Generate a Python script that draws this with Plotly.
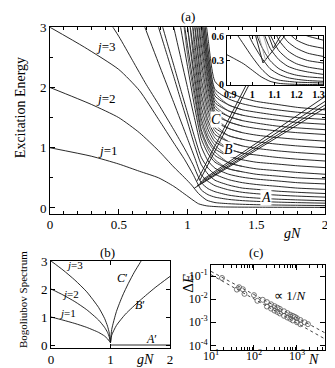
import plotly.graph_objects as go

# ---- panel (a): excitation spectrum vs gN ----
j1_x = [0, 0.3, 0.5, 0.65, 0.79, 0.9, 0.98, 1.04, 1.08, 1.14, 1.25, 1.6, 2.0]
j1_y = [1.0, 0.86, 0.73, 0.61, 0.5, 0.36, 0.23, 0.13, 0.07, 0.035, 0.018, 0.012, 0.01]
j2_x = [0, 0.3, 0.5, 0.65, 0.79, 0.9, 0.98, 1.03, 1.08, 1.14, 1.2, 1.3, 1.4, 1.5, 1.65, 1.8, 2.0]
j2_y = [2.0, 1.72, 1.5, 1.25, 0.95, 0.68, 0.5, 0.38, 0.24, 0.13, 0.09, 0.071, 0.061, 0.055, 0.049, 0.045, 0.04]
j3_x = [0, 0.25, 0.5, 0.65, 0.79, 0.9, 0.98, 1.04, 1.1, 1.15, 1.2, 1.3, 1.4, 1.5, 1.65, 1.8, 2.0]
j3_y = [3.0, 2.67, 2.3, 1.95, 1.47, 1.08, 0.8, 0.56, 0.3, 0.22, 0.18, 0.142, 0.122, 0.11, 0.098, 0.089, 0.08]
j4_x = [0.4, 0.5, 0.6, 0.7, 0.79, 0.9, 0.98, 1.04, 1.1, 1.15, 1.2, 1.3, 1.4, 1.5, 1.65, 1.8, 2.0]
j4_y = [3.2, 2.85, 2.45, 2.05, 1.72, 1.3, 0.98, 0.72, 0.42, 0.32, 0.27, 0.213, 0.183, 0.165, 0.147, 0.134, 0.12]
j5_x = [0.65, 0.69, 0.8, 0.9, 1.0, 1.05, 1.1, 1.15, 1.2, 1.3, 1.4, 1.5, 1.65, 1.8, 2.0]
j5_y = [3.25, 3.0, 2.34, 1.75, 1.15, 0.85, 0.55, 0.44, 0.37, 0.3, 0.26, 0.237, 0.214, 0.197, 0.18]

# higher levels, sampled on a common gN grid (None = off the top)
fan_x = [0.75, 0.8, 0.85, 0.9, 0.95, 1.0, 1.05, 1.1, 1.15, 1.2, 1.3, 1.4, 1.5, 1.65, 1.8, 2.0]
fan_y = [
    [3.3, 2.92, 2.55, 2.18, 1.8, 1.43, 1.05, 0.72, 0.56, 0.46, 0.38, 0.33, 0.31, 0.28, 0.26, 0.24],
    [None, 3.16, 2.76, 2.37, 1.97, 1.58, 1.19, 0.84, 0.66, 0.56, 0.47, 0.42, 0.39, 0.36, 0.33, 0.31],
    [None, None, 3.5, 3.0, 2.5, 2.0, 1.5, 1.02, 0.78, 0.66, 0.56, 0.51, 0.48, 0.45, 0.42, 0.40],
    [None, None, None, 3.65, 3.0, 2.35, 1.7, 1.15, 0.9, 0.76, 0.65, 0.6, 0.56, 0.53, 0.5, 0.48],
    [None, None, None, None, 3.45, 2.7, 1.95, 1.3, 1.02, 0.87, 0.75, 0.69, 0.65, 0.62, 0.59, 0.56],
    [None, None, None, None, 3.8, 3.0, 2.2, 1.48, 1.15, 0.98, 0.86, 0.80, 0.76, 0.73, 0.70, 0.67],
    [None, None, None, None, None, 3.35, 2.5, 1.68, 1.3, 1.1, 0.98, 0.91, 0.88, 0.84, 0.81, 0.78],
    [None, None, None, None, None, 3.75, 2.8, 1.9, 1.45, 1.22, 1.1, 1.03, 0.99, 0.95, 0.92, 0.89],
    [None, None, None, None, None, None, 3.1, 2.15, 1.62, 1.33, 1.2, 1.14, 1.1, 1.06, 1.03, 1.0],
    [None, None, None, None, None, None, 3.4, 2.43, 1.8, 1.44, 1.32, 1.25, 1.21, 1.17, 1.14, 1.11],
    [None, None, None, None, None, None, 3.7, 2.72, 1.98, 1.55, 1.43, 1.36, 1.32, 1.28, 1.25, 1.22],
    [None, None, None, None, None, None, 3.95, 3.0, 2.15, 1.65, 1.52, 1.45, 1.41, 1.36, 1.33, 1.30],
    [None, None, None, None, None, None, None, 3.19, 2.3, 1.75, 1.61, 1.54, 1.5, 1.46, 1.42, 1.39],
    [None, None, None, None, None, None, None, 3.38, 2.45, 1.86, 1.71, 1.63, 1.59, 1.54, 1.5, 1.47],
    [None, None, None, None, None, None, None, 3.57, 2.62, 1.97, 1.81, 1.73, 1.68, 1.63, 1.59, 1.55],
    [None, None, None, None, None, None, None, 3.76, 2.8, 2.1, 1.92, 1.83, 1.77, 1.72, 1.67, 1.63],
]

# extra steep levels in the dense bundle, each merging into a level of the fan
bundle_x = [
    [0.965, 1.0, 1.05, 1.1, 1.15, 1.2, 1.3, 1.4],
    [0.99, 1.0, 1.05, 1.1, 1.15, 1.2, 1.3, 1.4],
    [1.01, 1.05, 1.1, 1.15, 1.2, 1.3, 1.4],
    [1.03, 1.05, 1.1, 1.15, 1.2, 1.3, 1.4],
    [1.048, 1.1, 1.15, 1.2, 1.3, 1.4],
    [1.062, 1.1, 1.15, 1.2, 1.3, 1.4],
    [1.077, 1.1, 1.15, 1.2, 1.3, 1.4],
    [1.093, 1.1, 1.15, 1.2, 1.3, 1.4],
    [1.105, 1.15, 1.2, 1.3, 1.4],
    [1.115, 1.15, 1.2, 1.3, 1.4],
    [1.125, 1.15, 1.2, 1.3, 1.4],
]
bundle_y = [
    [3.2, 2.55, 1.85, 1.25, 0.97, 0.8, 0.65, 0.6],
    [3.2, 3.0, 2.1, 1.4, 1.1, 0.93, 0.75, 0.69],
    [3.2, 2.35, 1.58, 1.22, 1.04, 0.86, 0.80],
    [3.3, 2.65, 1.8, 1.38, 1.16, 0.98, 0.91],
    [3.1, 2.03, 1.54, 1.28, 1.1, 1.03],
    [3.1, 2.3, 1.71, 1.39, 1.2, 1.14],
    [3.1, 2.58, 1.9, 1.5, 1.32, 1.25],
    [3.1, 2.87, 2.07, 1.6, 1.43, 1.36],
    [3.1, 2.22, 1.7, 1.52, 1.45],
    [3.1, 2.38, 1.8, 1.61, 1.54],
    [3.1, 2.55, 1.92, 1.71, 1.63],
]

# rising branches B and C (straight segments: start, end)
b_x = [[1.05, 2.0], [1.07, 2.0], [1.09, 2.0], [1.11, 2.0]]
b_y = [[0.33, 1.66], [0.37, 1.71], [0.42, 1.77], [0.47, 1.85]]
c_x = [[1.07, 1.44], [1.09, 1.46]]
c_y = [[0.45, 2.1], [0.46, 2.1]]

# inset of (a)
ins_x = [0.885, 0.92, 0.96, 1.0, 1.04, 1.08, 1.12, 1.16, 1.2, 1.25, 1.32]
ins_y = [
    [0.37, 0.32, 0.26, 0.18, 0.1, 0.045, 0.02, 0.012, 0.008, 0.006, 0.005],
    [None, 0.66, 0.5, 0.34, 0.2, 0.1, 0.06, 0.045, 0.035, 0.03, 0.025],
    [None, None, 0.75, 0.52, 0.34, 0.2, 0.13, 0.09, 0.07, 0.055, 0.045],
    [None, None, None, 0.75, 0.48, 0.3, 0.2, 0.15, 0.12, 0.1, 0.086],
    [None, None, None, None, 0.72, 0.45, 0.31, 0.23, 0.19, 0.16, 0.13],
    [None, None, None, None, 0.9, 0.62, 0.42, 0.32, 0.26, 0.22, 0.19],
    [None, None, None, None, None, 0.8, 0.55, 0.42, 0.35, 0.3, 0.27],
    [None, None, None, None, None, 0.98, 0.68, 0.53, 0.45, 0.39, 0.35],
    [None, None, None, None, None, None, 0.82, 0.65, 0.55, 0.49, 0.45],
    [None, None, None, None, None, None, None, 0.78, 0.66, 0.6, 0.55],
]
ins_v_x = [[1.0, 1.048, 1.17], [1.06, 1.095, 1.14]]
ins_v_y = [[0.75, 0.27, 0.68], [0.7, 0.45, 0.66]]
ins_gray_x = [[1.02, 1.06], [1.04, 1.075]]
ins_gray_y = [[0.7, 0.3], [0.7, 0.38]]

# ---- panel (b): Bogoliubov spectrum ----
bog_x = [0, 0.2, 0.4, 0.6, 0.8, 0.9, 0.95, 0.98, 1.0]
bog_j1 = [1.0, 0.89, 0.77, 0.63, 0.45, 0.32, 0.22, 0.14, 0.08]
bog_j2 = [2.0, 1.79, 1.55, 1.26, 0.89, 0.63, 0.45, 0.28, 0.08]
bog_j3 = [3.0, 2.68, 2.32, 1.9, 1.34, 0.95, 0.67, 0.42, 0.08]
cp_x = [1.0, 1.02, 1.1, 1.2, 1.3, 1.4, 1.5, 1.6]
cp_y = [0.08, 0.55, 1.2, 1.75, 2.2, 2.6, 2.95, 3.3]
bp_x = [1.0, 1.02, 1.1, 1.25, 1.5, 1.75, 2.0]
bp_y = [0.08, 0.35, 0.7, 1.1, 1.6, 2.05, 2.45]
ap_x = [1.0, 2.0]
ap_y = [0.0, 0.0]

# ---- panel (c): gap vs N ----
n_up = [18, 45, 55, 100, 160, 200, 250, 300, 350, 400, 500, 600, 700, 800, 900, 1000, 1200, 1500, 1800]
de_up = [0.083, 0.033, 0.027, 0.015, 0.0094, 0.0075, 0.006, 0.005, 0.0043, 0.0038, 0.003,
         0.0025, 0.0021, 0.0019, 0.0017, 0.0015, 0.00125, 0.001, 0.00083]
n_lo = [40, 60, 120, 200, 250, 300, 350, 400, 500, 600, 700, 800, 1000, 1200]
de_lo = [0.026, 0.017, 0.0085, 0.0048, 0.0039, 0.0032, 0.0028, 0.0024, 0.0019, 0.0016,
         0.0014, 0.0012, 0.001, 0.00082]
fit_n = [10, 4467]
fit_up = [0.16, 0.00035]
fit_lo = [0.115, 0.00019]

FONT = "Liberation Serif"
LINE = dict(color="#111111", width=0.9)

fig = go.Figure()


def curve(x, y, ax="", smooth=True, line=LINE):
    fig.add_trace(go.Scatter(
        x=x, y=y, mode="lines", xaxis="x" + ax, yaxis="y" + ax,
        line=dict(shape="spline" if smooth else "linear", smoothing=0.6, **line),
        hoverinfo="skip"))


for x, y in [(j1_x, j1_y), (j2_x, j2_y), (j3_x, j3_y), (j4_x, j4_y), (j5_x, j5_y)]:
    curve(x, y)
for y in fan_y:
    curve(fan_x, y)
for x, y in zip(bundle_x, bundle_y):
    curve(x, y, line=dict(color="#333333", width=0.8))
for x, y in zip(b_x + c_x, b_y + c_y):
    curve(x, y, smooth=False)

# inset: white patch first so the main lines do not show through
fig.add_trace(go.Scatter(x=[0.885, 1.32, 1.32, 0.885, 0.885], y=[0, 0, 0.6, 0.6, 0],
                         mode="lines", fill="toself", fillcolor="white",
                         line=dict(width=0), xaxis="x2", yaxis="y2", hoverinfo="skip"))
for y in ins_y:
    curve(ins_x, y, "2")
for x, y in zip(ins_v_x, ins_v_y):
    curve(x, y, "2", smooth=False)
for x, y in zip(ins_gray_x, ins_gray_y):
    curve(x, y, "2", smooth=False, line=dict(color="#999999", width=0.8))

for y in [bog_j1, bog_j2, bog_j3]:
    curve(bog_x, y, "3")
curve(cp_x, cp_y, "3")
curve(bp_x, bp_y, "3")
curve(ap_x, ap_y, "3", smooth=False)

for y in [fit_up, fit_lo]:
    fig.add_trace(go.Scatter(x=fit_n, y=y, mode="lines", xaxis="x4", yaxis="y4",
                             line=dict(color="#444444", width=1, dash="dot"), hoverinfo="skip"))
for n, d in [(n_up, de_up), (n_lo, de_lo)]:
    fig.add_trace(go.Scatter(x=n, y=d, mode="markers", xaxis="x4", yaxis="y4",
                             marker=dict(symbol="circle-open", size=5, color="#555555",
                                         line=dict(width=0.8)), hoverinfo="skip"))


def axis(**kw):
    base = dict(showline=True, linecolor="black", linewidth=1, mirror="ticks",
                ticks="inside", ticklen=5, tickcolor="black", showgrid=False, zeroline=False,
                automargin=False,
                tickfont=dict(family=FONT, size=13, color="black"))
    base.update(kw)
    return base


minor_log = [m * 10 ** k for k in (1, 2, 3) for m in range(2, 10)]
fig.update_layout(
    template="none",
    width=335, height=368, margin=dict(l=0, r=0, t=0, b=0, autoexpand=False),
    paper_bgcolor="white", plot_bgcolor="white", showlegend=False,
    font=dict(family=FONT, color="black"),
    xaxis=axis(domain=[0.1254, 0.9463], range=[0, 2], anchor="y",
               tickvals=[0, 0.5, 1, 1.5, 2], ticklabelstandoff=-2,
               minor=dict(ticks="inside", dtick=0.1, ticklen=3, tickcolor="black")),
    yaxis=axis(domain=[0.4402, 0.9476], range=[-0.1, 3], anchor="x", tickvals=[0, 1, 2, 3],
               minor=dict(ticks="inside", dtick=0.5, ticklen=3, tickcolor="black")),
    xaxis2=axis(domain=[0.6537, 0.9403], range=[0.885, 1.32], anchor="y2",
                tickvals=[0.9, 1.0, 1.1, 1.2, 1.3], ticklen=3,
                tickfont=dict(family=FONT, size=10, color="black", weight="bold")),
    yaxis2=axis(domain=[0.7908, 0.9239], range=[0, 0.6], anchor="x2",
                tickvals=[0, 0.3, 0.6], ticklen=3,
                tickfont=dict(family=FONT, size=10, color="black", weight="bold")),
    xaxis3=axis(domain=[0.1284, 0.4836], range=[0, 2], anchor="y3", tickvals=[0, 1, 2],
                ticklen=4),
    yaxis3=axis(domain=[0.0766, 0.3125], range=[-0.1, 3], anchor="x3",
                tickvals=[0, 1, 2, 3], ticklen=4),
    xaxis4=axis(type="log", domain=[0.606, 0.946], range=[1, 3.65], anchor="y4",
                tickvals=[10, 100, 1000], ticklabelstandoff=-5,
                ticktext=["10<sup>1</sup>", "10<sup>2</sup>", "10<sup>3</sup>"],
                tickfont=dict(family=FONT, size=12, color="black"),
                minor=dict(ticks="inside", tickvals=minor_log, ticklen=3, tickcolor="black")),
    yaxis4=axis(type="log", domain=[0.0707, 0.3016], range=[-4.2, -0.52], anchor="x4",
                tickvals=[1e-4, 1e-3, 1e-2, 1e-1],
                tickfont=dict(family=FONT, size=12, color="black"),
                ticktext=["10<sup>-4</sup>", "10<sup>-3</sup>", "10<sup>-2</sup>",
                          "10<sup>-1</sup>"]),
)


def note(text, x, y, ref="paper", size=13, angle=0, bg=None, ax=""):
    xr = "paper" if ref == "paper" else "x" + ax
    yr = "paper" if ref == "paper" else "y" + ax
    fig.add_annotation(text=text, x=x, y=y, xref=xr, yref=yr, showarrow=False,
                       textangle=angle, font=dict(family=FONT, size=size, color="black"),
                       bgcolor=bg, borderpad=0, xanchor="center", yanchor="middle")


note("(a)", 0.537, 0.978)
note("(b)", 0.2985, 0.335)
note("(c)", 0.740, 0.336)
note("Excitation Energy", 0.036, 0.728, size=14, angle=-90)
note("Bogoliubov Spectrum", 0.045, 0.2065, size=11, angle=-90)
note("<i>gN</i>", 0.848, 0.386, size=14)
note("<i>gN</i>", 0.409, 0.0435, size=14)
note("<i>N</i>", 0.913, 0.046, size=14)
note("Δ<i>E</i>", 0.537, 0.253, size=15, angle=-90)
note("∝ 1/<i>N</i>", 0.842, 0.22, size=13)

note("<i>j</i>=3", 0.4, 2.68, ref="data")
note("<i>j</i>=2", 0.4, 1.82, ref="data")
note("<i>j</i>=1", 0.42, 0.95, ref="data")
note("<i>A</i>", 1.57, 0.18, ref="data", size=14, bg="white")
note("<i>B</i>", 1.3, 0.97, ref="data", size=14, bg="white")
note("<i>C</i>", 1.21, 1.47, ref="data", size=14, bg="white")

note("<i>j</i>=3", 0.4, 2.85, ref="data", size=11, ax="3")
note("<i>j</i>=2", 0.32, 1.82, ref="data", size=11, ax="3")
note("<i>j</i>=1", 0.27, 1.14, ref="data", size=11, ax="3")
note("<i>C</i>′", 1.2, 2.4, ref="data", size=12, ax="3")
note("<i>B</i>′", 1.49, 1.44, ref="data", size=12, ax="3")
note("<i>A</i>′", 1.69, 0.22, ref="data", size=12, ax="3")

fig.write_html("out.html")
